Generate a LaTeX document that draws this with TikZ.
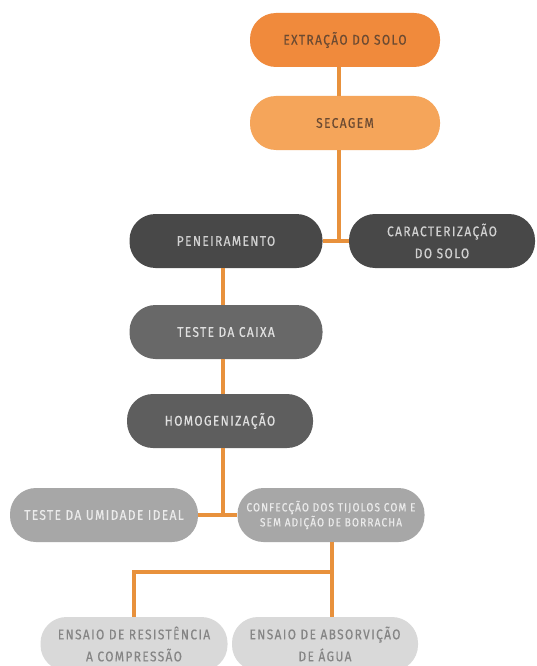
\documentclass[tikz,border=0pt]{standalone}
\usepackage{fontspec}
\newfontfamily\boxfont[LetterSpace=10,FakeStretch=0.85,FakeBold=0.4]{Fira Sans}
\definecolor{laranja}{HTML}{F08A3C}
\definecolor{laranjaclaro}{HTML}{F5A55A}
\definecolor{marrom}{HTML}{6B4A32}
\definecolor{cinzaescuro}{HTML}{484848}
\definecolor{cinzamedio}{HTML}{686868}
\definecolor{cinza}{HTML}{A7A7A7}
\definecolor{cinzaclaro}{HTML}{D9D9D9}
\definecolor{linha}{HTML}{E8913C}
\begin{document}
\begin{tikzpicture}[
    x=1pt, y=-1pt,
    etapa/.style={rectangle, rounded corners=26pt, minimum height=54pt, inner sep=2pt,
        align=center, font=\boxfont\fontsize{14}{22}\selectfont},
    etapaA/.style={etapa, fill=laranja, text=marrom},
    etapaB/.style={etapa, fill=laranjaclaro, text=marrom},
    etapaC/.style={etapa, fill=cinzaescuro, text=white!82!black},
    etapaD/.style={etapa, fill=cinzamedio, text=white!88!black},
    etapaE/.style={etapa, fill=cinza, text=white!92!black},
    etapaF/.style={etapa, fill=cinzaclaro, text=black!48},
    liga/.style={draw=linha, line width=3.5pt}
]
    \useasboundingbox (0,0) rectangle (537,666);
    \fill[white] (0,0) rectangle (537,666);

    % preparo do solo
    \node[etapaA, minimum width=190pt] (extracao) at (345, 40) {EXTRAÇÃO DO SOLO};
    \node[etapaB, minimum width=190pt] (secagem) at (345, 123) {SECAGEM};
    \node[etapaC, minimum width=193pt] (peneira) at (226, 241) {PENEIRAMENTO};
    \node[etapaC, minimum width=186pt] (caract) at (442, 241) {CARACTERIZAÇÃO\\DO SOLO};
    \node[etapaD, minimum width=193pt] (caixa) at (226, 332) {TESTE DA CAIXA};
    \node[etapaD, minimum width=186pt, fill=black!63] (homog) at (220, 421) {HOMOGENIZAÇÃO};

    % tijolos e ensaios
    \node[etapaE, minimum width=188pt] (umidade) at (104, 515) {TESTE DA UMIDADE IDEAL};
    \node[etapaE, minimum width=187pt, font=\boxfont\fontsize{11.8}{15}\selectfont] (confec) at (331, 515)
        {CONFECÇÃO DOS TIJOLOS COM E\\SEM ADIÇÃO DE BORRACHA};
    \node[etapaF, minimum width=187pt] (resist) at (134, 644) {ENSAIO DE RESISTÊNCIA\\A COMPRESSÃO};
    \node[etapaF, minimum width=186pt] (absorc) at (325, 644) {ENSAIO DE ABSORVIÇÃO\\DE ÁGUA};

    \coordinate (jA) at (339, 243);
    \coordinate (jB) at (223, 516);
    \coordinate (jC) at (332, 572);

    % ligacoes
    \draw[liga] (extracao.south -| jA) -- (secagem.north -| jA);
    \draw[liga] (secagem.south -| jA) -- (jA);
    \draw[liga] (peneira.east) -- (caract.west);
    \draw[liga] (peneira.south -| jB) -- (caixa.north -| jB);
    \draw[liga] (caixa.south -| jB) -- (homog.north -| jB);
    \draw[liga] (homog.south -| jB) -- (jB);
    \draw[liga] (umidade.east) -- (confec.west);
    \draw[liga] (confec.south -| jC) -- (absorc.north -| jC);
    \draw[liga] (jC) -| (resist.north);
\end{tikzpicture}
\end{document}
